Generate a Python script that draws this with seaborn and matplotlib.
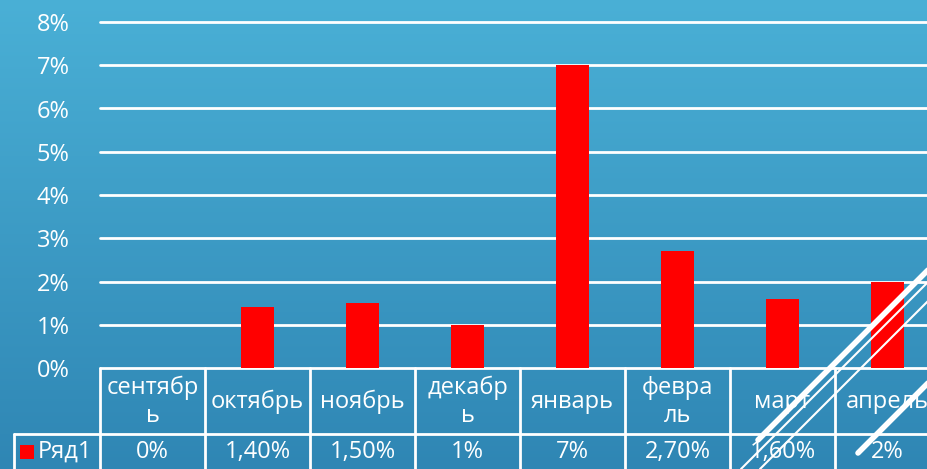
import numpy as np
import pandas as pd
import matplotlib
matplotlib.use("Agg")
import matplotlib.pyplot as plt
from matplotlib.lines import Line2D
import seaborn as sns

# данные
months = ["сентябрь", "октябрь", "ноябрь", "декабрь", "январь", "февраль", "март", "апрель"]
month_labels = ["сентябр\nь", "октябрь", "ноябрь", "декабр\nь", "январь", "февра\nль", "март", "апрель"]
values = [0, 1.4, 1.5, 1.0, 7.0, 2.7, 1.6, 2.0]
value_labels = ["0%", "1,40%", "1,50%", "1%", "7%", "2,70%", "1,60%", "2%"]
series_name = "Ряд1"
y_ticks = [0, 1, 2, 3, 4, 5, 6, 7, 8]

df = pd.DataFrame({"month": months, "value": values})

sns.set_style("white")
plt.rcParams['font.family'] = ['Open Sans', 'DejaVu Sans']
FS = 17

W, H = 928, 469
fig = plt.figure(figsize=(W / 100, H / 100), dpi=100)

# градиентный фон
bg = fig.add_axes([0, 0, 1, 1], zorder=-10)
grad = np.linspace(0, 1, 256).reshape(-1, 1)
cmap = matplotlib.colors.LinearSegmentedColormap.from_list("bg", ["#4ab0d6", "#2f86b4"])
bg.imshow(grad, aspect="auto", cmap=cmap, extent=[0, 1, 0, 1], origin="upper")
bg.axis("off")

# область графика (правый край уходит за пределы картинки)
ax = fig.add_axes([100 / W, 101 / H, 840 / W, 346 / H])
ax.patch.set_alpha(0)
sns.barplot(data=df, x="month", y="value", color="#ff0000", width=0.31,
            saturation=1, linewidth=0, ax=ax, zorder=3)

ax.set_ylim(0, 8)
ax.set_xlim(-0.5, len(months) - 0.5)
ax.set_yticks(y_ticks)
ax.set_yticklabels([f"{t}%" for t in y_ticks], color="white", fontsize=FS)
ax.tick_params(axis="y", length=0, pad=22)
ax.set_xticks([])
ax.set_xlabel("")
ax.set_ylabel("")
for s in ax.spines.values():
    s.set_visible(False)
for t in y_ticks:
    ax.axhline(t, color="white", lw=2, zorder=1, clip_on=False)

# таблица данных под графиком
u = 43.25  # пикселей на единицу
row1 = -66 / u
row2 = -140 / u
left = (14 - 100) / 105 - 0.5
lk = dict(color="white", lw=2, clip_on=False, zorder=5)
ax.plot([left, len(months) - 0.5], [row1, row1], **lk)
ax.plot([left, left], [row1, row2], **lk)
for i in range(len(months) + 1):
    ax.plot([i - 0.5, i - 0.5], [0, row2], **lk)
for i, lab in enumerate(month_labels):
    ax.text(i, -0.78, lab, ha="center", va="center", color="white", fontsize=FS,
            multialignment="center", linespacing=1.2, clip_on=False)
for i, lab in enumerate(value_labels):
    ax.text(i, -1.94, lab, ha="center", va="center", color="white", fontsize=FS, clip_on=False)
ax.scatter([(27 - 100) / 105 - 0.5], [-1.94], marker="s", s=100, color="#ff0000",
           linewidths=0, clip_on=False, zorder=6)
ax.text((38 - 100) / 105 - 0.5, -1.94, series_name, ha="left", va="center",
        color="white", fontsize=FS, clip_on=False)

# декоративные линии слайда
def deco(x0, y0, x1, y1, lw):
    fig.add_artist(Line2D([x0 / W, x1 / W], [1 - y0 / H, 1 - y1 / H], color="white",
                          lw=lw, solid_capstyle="round", transform=fig.transFigure, zorder=20))

deco(758, 440, 968, 230, 4)
deco(741, 469, 948, 262, 1.5)
deco(760, 469, 948, 281, 1.5)
deco(858, 453, 948, 363, 4)

fig.savefig("out.png", dpi=100)
